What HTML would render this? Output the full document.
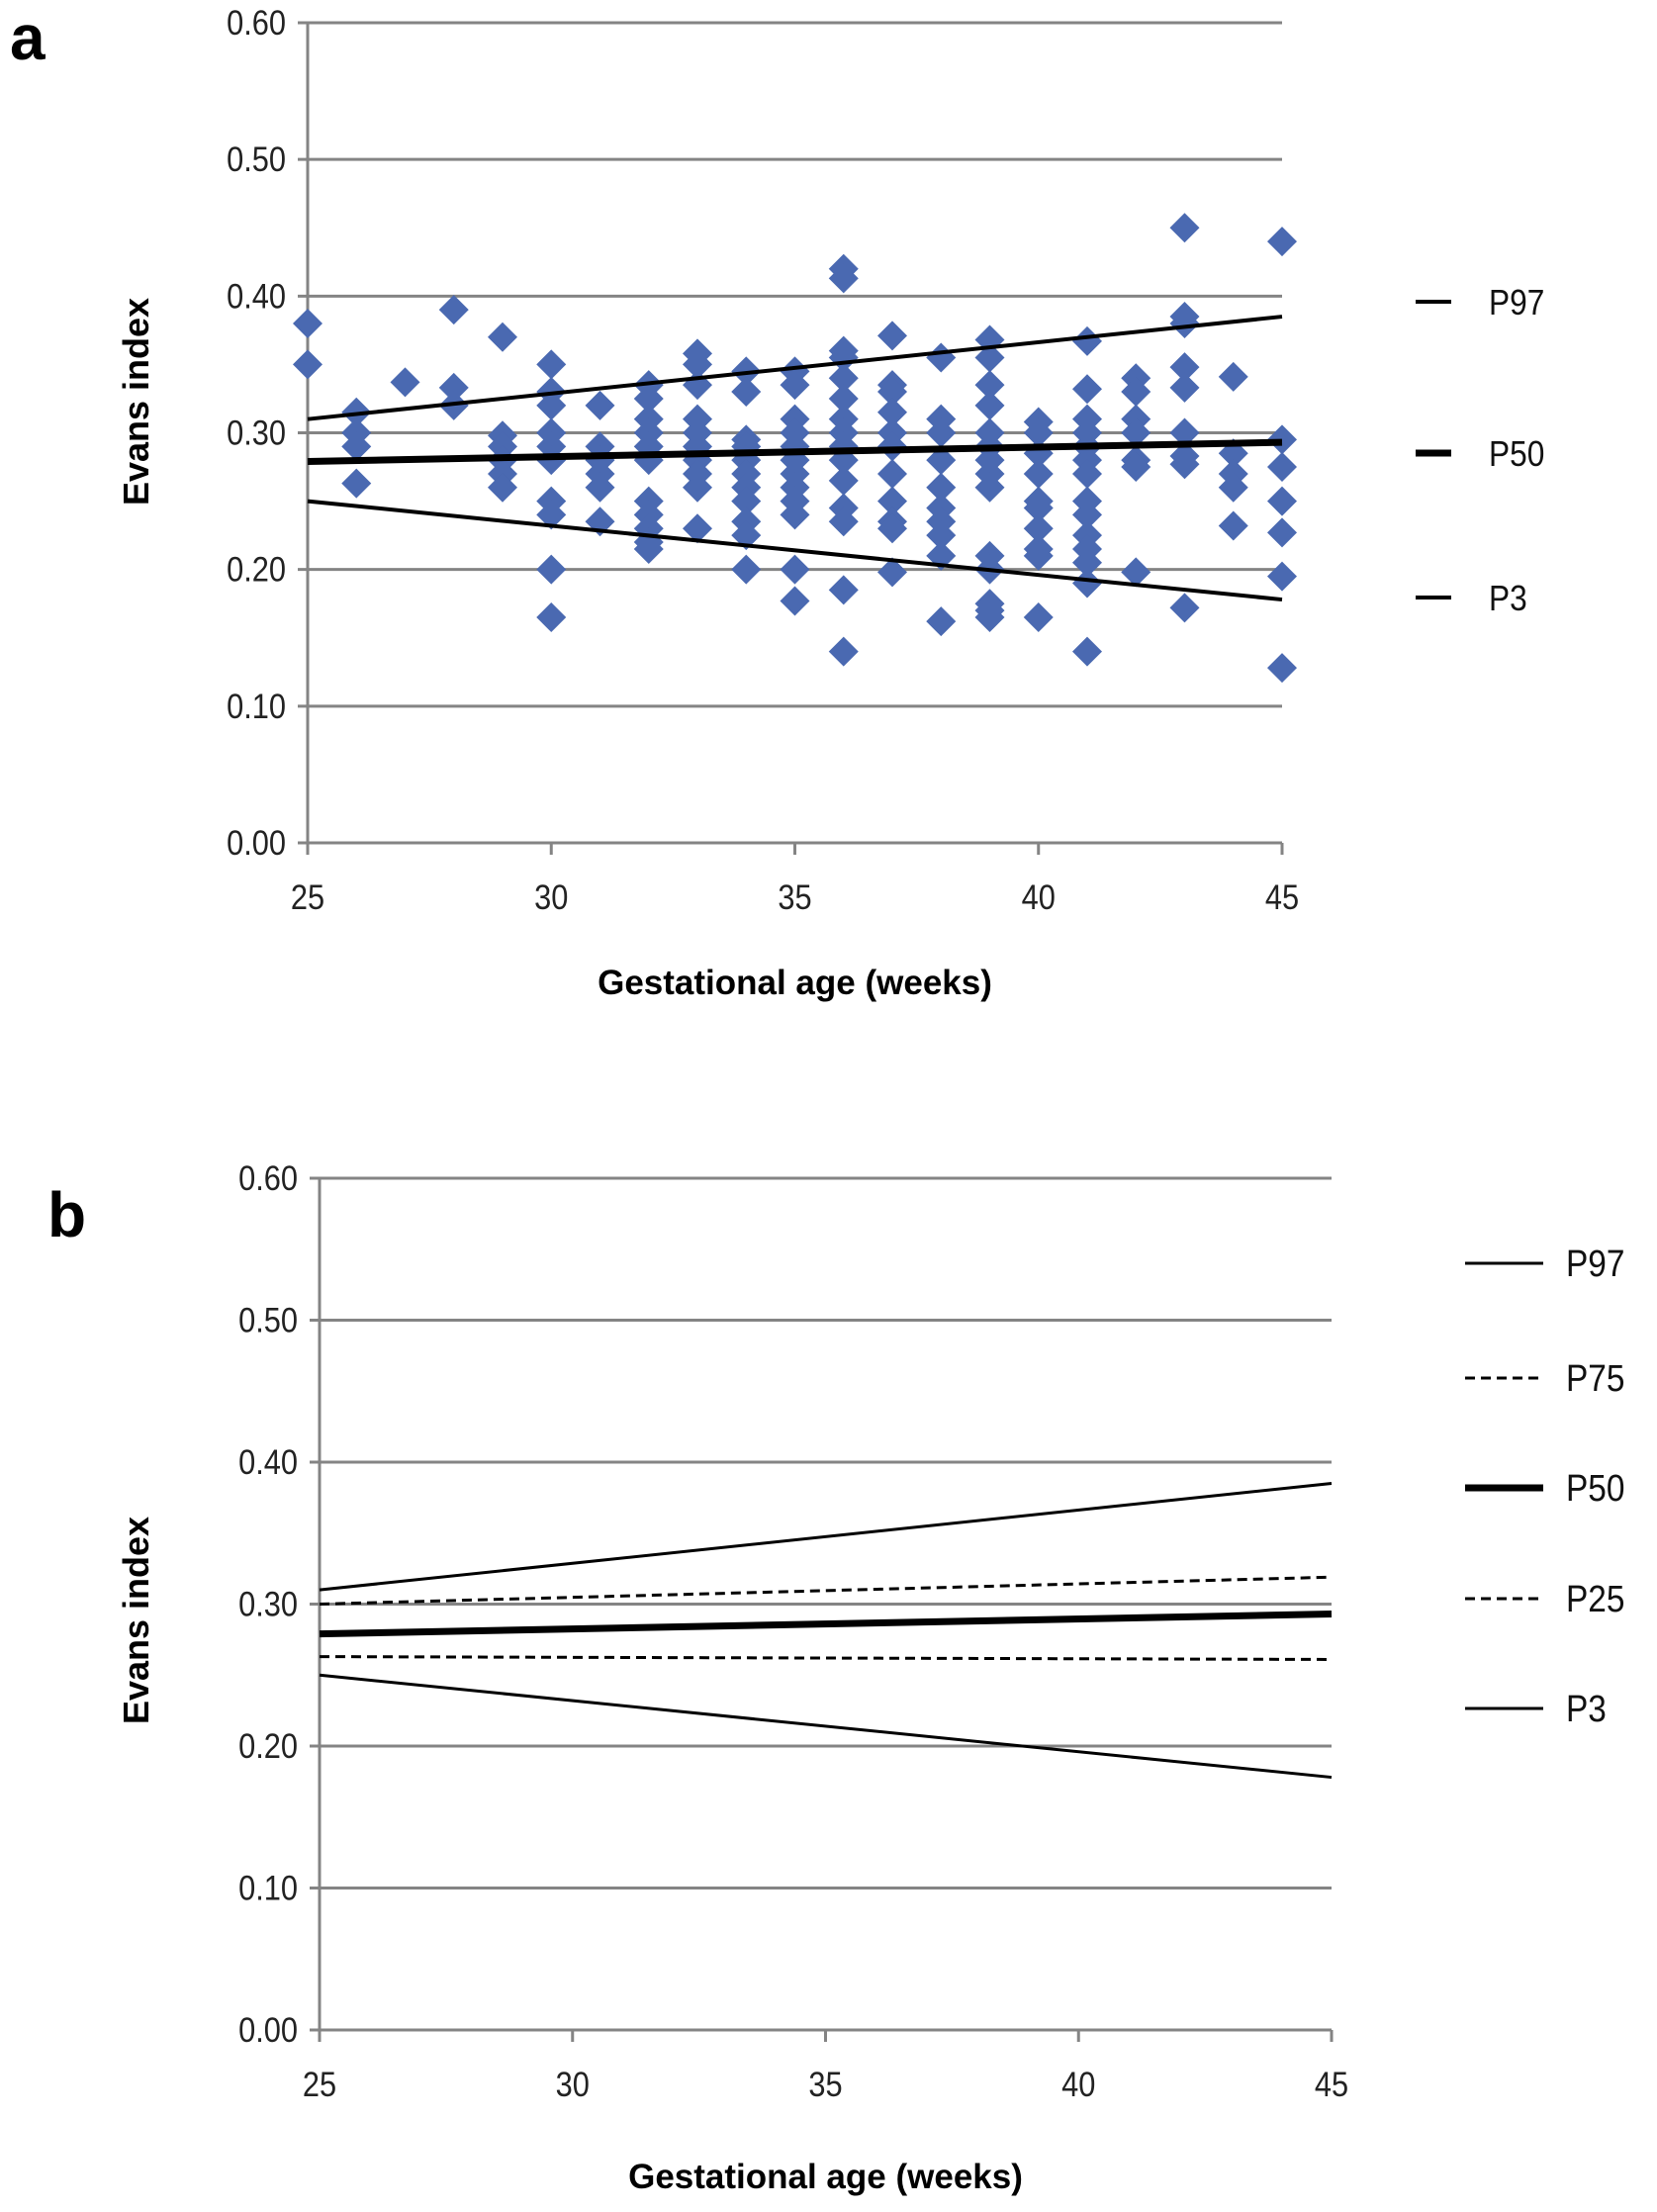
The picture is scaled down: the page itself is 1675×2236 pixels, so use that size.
<!DOCTYPE html>
<html><head><meta charset="utf-8"><style>
html,body{margin:0;padding:0;background:#fff;}
svg{display:block;}
text{font-family:"Liberation Sans",sans-serif;}
</style></head><body>
<svg id="fig" width="1675" height="2236" viewBox="0 0 1675 2236" xmlns="http://www.w3.org/2000/svg">
<text x="10" y="60" font-size="64" font-weight="bold">a</text>
<text x="48" y="1250" font-size="64" font-weight="bold">b</text>
<g id="chartA"></g>
<g id="chartB"></g>
</svg>
<script>
const yTicks=[0,0.1,0.2,0.3,0.4,0.5,0.6];
const yTickLabels=["0.00","0.10","0.20","0.30","0.40","0.50","0.60"];
const xTicks=[25,30,35,40,45];
const scatterWeeks=[25,26,27,28,29,30,31,32,33,34,35,36,37,38,39,40,41,42,43,44,45];
const scatterValues=[
[0.38,0.35],
[0.315,0.30,0.29,0.263],
[0.337],
[0.39,0.333,0.32],
[0.37,0.298,0.29,0.28,0.27,0.26],
[0.35,0.33,0.32,0.30,0.29,0.28,0.25,0.24,0.20,0.165],
[0.32,0.29,0.28,0.27,0.26,0.235],
[0.335,0.325,0.31,0.30,0.29,0.28,0.25,0.24,0.23,0.22,0.215],
[0.358,0.35,0.335,0.31,0.30,0.29,0.28,0.27,0.26,0.23],
[0.345,0.33,0.295,0.29,0.28,0.27,0.26,0.25,0.235,0.225,0.20],
[0.345,0.335,0.31,0.30,0.29,0.28,0.27,0.26,0.25,0.24,0.20,0.177],
[0.42,0.413,0.36,0.355,0.34,0.325,0.31,0.30,0.29,0.28,0.265,0.245,0.235,0.185,0.14],
[0.371,0.335,0.33,0.315,0.30,0.29,0.27,0.25,0.235,0.23,0.198],
[0.355,0.31,0.30,0.28,0.26,0.245,0.235,0.225,0.21,0.162],
[0.368,0.355,0.335,0.32,0.30,0.29,0.28,0.27,0.26,0.21,0.20,0.175,0.17,0.165],
[0.308,0.30,0.285,0.27,0.25,0.245,0.23,0.215,0.21,0.165],
[0.367,0.332,0.31,0.30,0.29,0.28,0.27,0.25,0.24,0.225,0.215,0.205,0.19,0.14],
[0.34,0.33,0.31,0.30,0.28,0.275,0.198],
[0.45,0.385,0.38,0.348,0.333,0.30,0.283,0.277,0.172],
[0.341,0.285,0.27,0.26,0.232],
[0.44,0.295,0.275,0.25,0.227,0.195,0.128]];
const lineWeeks=[25,45];
const p97=[0.31,0.385];
const p75=[0.30,0.319];
const p50=[0.279,0.293];
const p25=[0.263,0.261];
const p3=[0.25,0.178];

const NS="http://www.w3.org/2000/svg";
function mk(parent,tag,attrs){const e=document.createElementNS(NS,tag);for(const k in attrs)e.setAttribute(k,attrs[k]);parent.appendChild(e);return e;}

function drawChart(g,c){
  const sx=v=>c.x0+(v-25)/20*(c.x1-c.x0);
  const sy=v=>c.y0-(v/0.6)*(c.y0-c.y1);
  yTicks.forEach((t,i)=>{
    const l=mk(g,'line',{x1:c.x0-10,x2:c.x1,y1:sy(t),y2:sy(t),stroke:'#848484','stroke-width':3});
    
    
    const tx=mk(g,'text',{x:0,y:0,'font-size':35,'text-anchor':'end',fill:'#222',transform:`translate(${c.x0-22},${sy(t)+12}) scale(0.88,1)`});
    tx.textContent=yTickLabels[i];
    
    
  });
  const ax=mk(g,'line',{x1:c.x0,x2:c.x0,y1:c.y1,y2:c.y0+12,stroke:'#848484','stroke-width':3});
  
  
  xTicks.forEach(t=>{
    const tk=mk(g,'line',{x1:sx(t),x2:sx(t),y1:c.y0,y2:c.y0+12,stroke:'#848484','stroke-width':3});
    
    
    const tx=mk(g,'text',{x:0,y:0,'font-size':35,'text-anchor':'middle',fill:'#222',transform:`translate(${sx(t)},${c.y0+67}) scale(0.88,1)`});
    tx.textContent=t;
    
    
  });
  const xt=mk(g,'text',{x:(c.x0+c.x1)/2,y:c.xtY,'font-size':35,'font-weight':'bold','text-anchor':'middle'});
  xt.textContent='Gestational age (weeks)';
  
  
  const yt=mk(g,'text',{x:0,y:0,'font-size':36,'font-weight':'bold','text-anchor':'middle',transform:'translate(150,'+c.ytY+') rotate(-90)'});
  yt.textContent='Evans index';
  
  
  if(c.scatter){
    scatterWeeks.forEach((w,i)=>{scatterValues[i].forEach(v=>{
      const x=sx(w),y=sy(v),r=15;
      const d=mk(g,'polygon',{points:`${x},${y-r} ${x+r},${y} ${x},${y+r} ${x-r},${y}`,fill:'#4a69b1'});
      
      
    });});
  }
  c.lines.forEach(s=>{
    const l=mk(g,'line',{x1:sx(lineWeeks[0]),y1:sy(s.v[0]),x2:sx(lineWeeks[1]),y2:sy(s.v[1]),stroke:'#000','stroke-width':s.w});
    if(s.dash)l.setAttribute('stroke-dasharray','10 6');
    
    
  });
  c.legend.forEach(s=>{
    const l=mk(g,'line',{x1:c.lx0,x2:c.lx1,y1:s.y,y2:s.y,stroke:'#000','stroke-width':s.w});
    if(s.dash)l.setAttribute('stroke-dasharray','10 6');
    
    
    const t=mk(g,'text',{x:0,y:0,'font-size':c.lfs,fill:'#111',transform:`translate(${c.ltx},${s.y+13}) scale(0.88,1)`});
    t.textContent=s.n;
    
    
  });
}
drawChart(document.getElementById('chartA'),{x0:311,x1:1296,y0:852,y1:23,xtY:1005,ytY:406,scatter:true,
  lines:[{n:'P97',v:p97,w:4},{n:'P50',v:p50,w:7},{n:'P3',v:p3,w:4}],
  legend:[{n:'P97',y:305,w:4},{n:'P50',y:458,w:7},{n:'P3',y:604,w:4}],lx0:1431,lx1:1467,ltx:1505,lfs:36});
drawChart(document.getElementById('chartB'),{x0:323,x1:1346,y0:2052,y1:1191,xtY:2212,ytY:1638,scatter:false,
  lines:[{n:'P97',v:p97,w:3},{n:'P75',v:p75,w:3,dash:true},{n:'P50',v:p50,w:7},{n:'P25',v:p25,w:3,dash:true},{n:'P3',v:p3,w:3}],
  legend:[{n:'P97',y:1277,w:3},{n:'P75',y:1393,w:3,dash:true},{n:'P50',y:1504,w:7},{n:'P25',y:1616,w:3,dash:true},{n:'P3',y:1727,w:3}],lx0:1481,lx1:1560,ltx:1583,lfs:38});
</script>
</body></html>
